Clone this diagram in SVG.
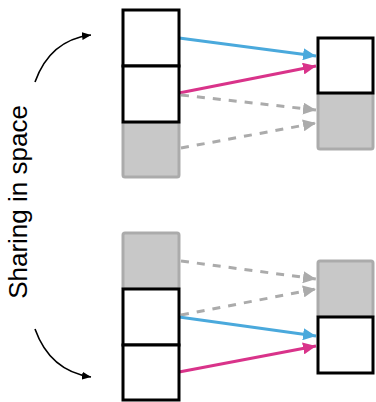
<svg xmlns="http://www.w3.org/2000/svg" width="376" height="402" viewBox="0 0 376 402">
  <style>
    .cell { fill: #ffffff; stroke: #000000; stroke-width: 3; }
    .ghost { fill: #c8c8c8; stroke: #ababab; stroke-width: 3; }
    .blue { fill: none; stroke: #4aa9dc; stroke-width: 3; }
    .pink { fill: none; stroke: #d9338a; stroke-width: 3; }
    .dash { fill: none; stroke: #ababab; stroke-width: 3; stroke-dasharray: 8 8; }
    .curve { fill: none; stroke: #000000; stroke-width: 1.6; }
    .label { font-family: "Liberation Sans", Arial, sans-serif; font-size: 26px; fill: #000000; }
  </style>
  <defs>
    <marker id="ahBlue" markerUnits="userSpaceOnUse" markerWidth="14" markerHeight="12" refX="13" refY="6" orient="auto">
      <path d="M0,0 L13,6 L0,12 Z" fill="#4aa9dc"/>
    </marker>
    <marker id="ahPink" markerUnits="userSpaceOnUse" markerWidth="14" markerHeight="12" refX="13" refY="6" orient="auto">
      <path d="M0,0 L13,6 L0,12 Z" fill="#d9338a"/>
    </marker>
    <marker id="ahGray" markerUnits="userSpaceOnUse" markerWidth="14" markerHeight="12" refX="13" refY="6" orient="auto">
      <path d="M0,0 L13,6 L0,12 Z" fill="#ababab"/>
    </marker>
    <marker id="ahBlack" markerUnits="userSpaceOnUse" markerWidth="10" markerHeight="8" refX="9" refY="4" orient="auto">
      <path d="M0,0 L9,4 L0,8 Z" fill="#000000"/>
    </marker>
  </defs>

  <text class="label" transform="translate(27,202) rotate(-90)" text-anchor="middle">Sharing in space</text>

  <g id="connectors">
    <path class="curve" d="M35,82 Q50,40 91,35" marker-end="url(#ahBlack)"/>
    <path class="curve" d="M35,329 Q50,371 91,377" marker-end="url(#ahBlack)"/>

    <line class="blue" x1="179" y1="38" x2="316" y2="56" marker-end="url(#ahBlue)"/>
    <line class="pink" x1="179" y1="93" x2="316" y2="66" marker-end="url(#ahPink)"/>
    <line class="dash" x1="181" y1="95" x2="316" y2="110" marker-end="url(#ahGray)"/>
    <line class="dash" x1="181" y1="148" x2="316" y2="123" marker-end="url(#ahGray)"/>

    <line class="dash" x1="181" y1="261" x2="316" y2="279" marker-end="url(#ahGray)"/>
    <line class="dash" x1="181" y1="315" x2="316" y2="289" marker-end="url(#ahGray)"/>
    <line class="blue" x1="179" y1="317" x2="316" y2="336" marker-end="url(#ahBlue)"/>
    <line class="pink" x1="179" y1="372" x2="316" y2="346" marker-end="url(#ahPink)"/>
  </g>

  <g id="top-source">
    <rect class="ghost" x="123" y="122" width="56" height="55" rx="2"/>
    <rect class="cell" x="123" y="10" width="56" height="56"/>
    <rect class="cell" x="123" y="66" width="56" height="56"/>
  </g>

  <g id="top-target">
    <rect class="ghost" x="318" y="93" width="55" height="56" rx="2"/>
    <rect class="cell" x="318" y="38" width="55" height="55"/>
  </g>

  <g id="bottom-source">
    <rect class="ghost" x="123" y="233" width="56" height="56" rx="2"/>
    <rect class="cell" x="123" y="289" width="56" height="56"/>
    <rect class="cell" x="123" y="345" width="56" height="55"/>
  </g>

  <g id="bottom-target">
    <rect class="ghost" x="318" y="261" width="55" height="56" rx="2"/>
    <rect class="cell" x="318" y="317" width="55" height="56"/>
  </g>
</svg>
